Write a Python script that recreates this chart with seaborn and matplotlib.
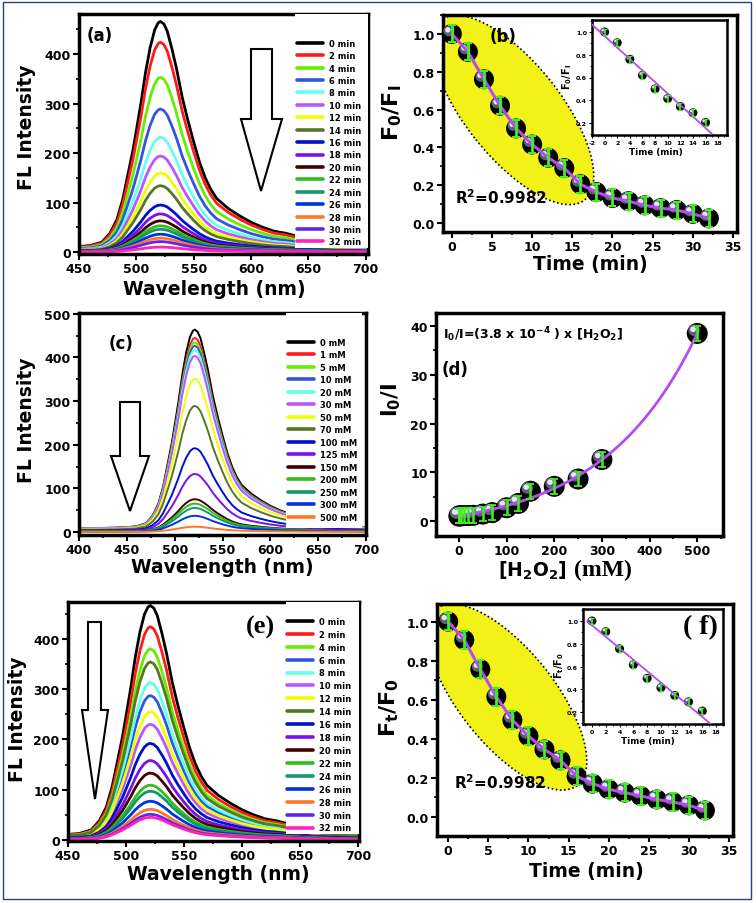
import numpy as np
import pandas as pd
import matplotlib
matplotlib.use("Agg")
import matplotlib.pyplot as plt
import seaborn as sns
from matplotlib.patches import Ellipse, Polygon, Rectangle
from matplotlib.lines import Line2D
from matplotlib import transforms
from matplotlib.ticker import MultipleLocator

# ---------------- data ----------------
wavelength = [400, 420, 440, 450, 460, 470, 477, 483, 488, 493, 497, 500, 504, 508, 512,
              516, 519, 521, 524, 527, 531, 535, 540, 545, 550, 555, 560, 565, 570, 580,
              590, 600, 610, 620, 630, 640, 650, 660, 680, 700]
profile0 = [8, 9, 10, 11, 13, 20, 38, 65, 105, 160, 205, 245, 300, 362, 412,
            448, 462, 465, 460, 445, 410, 370, 312, 265, 222, 182, 150, 126, 108, 88,
            73, 60, 50, 42, 38, 32, 25, 20, 14, 10]

time_min = [0, 2, 4, 6, 8, 10, 12, 14, 16, 18, 20, 22, 24, 26, 28, 30, 32]
time_labels = [f"{t} min" for t in time_min]
conc_mM = [0, 1, 5, 10, 20, 30, 50, 70, 100, 125, 150, 200, 250, 300, 500]
conc_labels = [f"{c} mM" for c in conc_mM]

peaks_a = [466, 424, 353, 289, 232, 194, 160, 134, 95, 77, 63, 53, 46, 36, 28, 21, 10]
peaks_c = [464, 445, 435, 427, 417, 404, 351, 289, 192, 133, 75, 65, 55, 37, 12]
peaks_e = [466, 424, 380, 287, 313, 230, 255, 354, 192, 158, 133, 109, 97, 77, 61, 51, 45]

ratio_b = [1.0, 0.905, 0.76, 0.62, 0.50, 0.415, 0.345, 0.29, 0.205, 0.163, 0.132,
           0.115, 0.093, 0.078, 0.068, 0.048, 0.024]
ratio_f = [1.0, 0.906, 0.756, 0.615, 0.496, 0.414, 0.346, 0.29, 0.209, 0.171, 0.142,
           0.125, 0.108, 0.09, 0.077, 0.06, 0.034]
inset_time = [0, 2, 4, 6, 8, 10, 12, 14, 16]
inset_b = [1.0, 0.905, 0.76, 0.62, 0.50, 0.415, 0.345, 0.29, 0.205]
inset_f = [1.0, 0.906, 0.756, 0.615, 0.496, 0.414, 0.346, 0.29, 0.209]
ratio_d = [1.0, 1.02, 1.05, 1.08, 1.1, 1.15, 1.4, 1.7, 2.7, 3.6, 6.1, 7.1, 8.6, 12.6, 38.5]

series_colors = ['#000000', '#ff1a1a', '#66ee00', '#3355dd', '#66ffee', '#bb55ff',
                 '#eeff00', '#557722', '#0011cc', '#7711ee', '#440000', '#33bb22',
                 '#119966', '#0033dd', '#ff7722', '#6622ee', '#ff22bb']

# ---------------- style ----------------
sns.set_theme(style="ticks")
plt.rcParams['font.family'] = ['DejaVu Sans']
plt.rcParams['font.weight'] = 'bold'
plt.rcParams['mathtext.default'] = 'bf'
plt.rcParams['axes.unicode_minus'] = False
plt.rcParams['axes.edgecolor'] = 'black'
plt.rcParams['text.color'] = 'black'
plt.rcParams['axes.labelcolor'] = 'black'
plt.rcParams['xtick.color'] = 'black'
plt.rcParams['ytick.color'] = 'black'
plt.rcParams['xtick.labelcolor'] = 'black'
plt.rcParams['ytick.labelcolor'] = 'black'

W, H = 756, 904
fig = plt.figure(figsize=(W / 100, H / 100), dpi=100)
fig.patch.set_facecolor('white')


def add_ax(x0, y0, x1, y1):
    return fig.add_axes([x0 / W, 1 - y1 / H, (x1 - x0) / W, (y1 - y0) / H])


def ftext(x, y, s, **kw):
    kw.setdefault('color', 'black')
    fig.text(x / W, 1 - y / H, s, **kw)


def style(ax, lw=2.5, fs=9, maj=4.5, mnr=2.5, tw=1.5, pad=1.5):
    for sp in ax.spines.values():
        sp.set_linewidth(lw)
        sp.set_color('black')
        sp.set_visible(True)
    ax.tick_params(which='major', direction='out', length=maj, width=tw, labelsize=fs,
                   pad=pad, top=False, right=False, colors='black', labelcolor='black')
    ax.tick_params(which='minor', direction='out', length=mnr, width=tw * 0.8,
                   top=False, right=False, colors='black')
    ax.set_facecolor('white')
    ax.set_xlabel('')
    ax.set_ylabel('')


def spectra(ax, peaks, labels, lw):
    pk0 = max(profile0)
    rows = []
    for lab, pk in zip(labels, peaks):
        for w, p in zip(wavelength, profile0):
            rows.append((w, p * pk / pk0, lab))
    df = pd.DataFrame(rows, columns=['wl', 'I', 'series'])
    sns.lineplot(data=df, x='wl', y='I', hue='series', hue_order=labels,
                 palette=series_colors[:len(labels)], linewidth=lw, legend=False,
                 estimator=None, sort=False, ax=ax)


def spec_legend(ax, labels, anchor, ls):
    handles = [Line2D([], [], color=c, lw=2.6) for c in series_colors[:len(labels)]]
    leg = ax.legend(handles, labels, loc='upper left', bbox_to_anchor=anchor,
                    frameon=False, fontsize=6, handlelength=3.1, handletextpad=0.7,
                    labelspacing=ls, borderpad=0, borderaxespad=0)
    leg.set_zorder(6)
    for t in leg.get_texts():
        t.set_fontweight('bold')
        t.set_color('black')


def white_box(ax, x0, y0):
    ax.add_patch(Rectangle((x0, y0), 80, 600, facecolor='white', edgecolor='none', zorder=3))


def down_arrow(sx0, sx1, hx0, hx1, ytop, yshaft, tipx, tipy):
    pts = [(sx0, ytop), (sx1, ytop), (sx1, yshaft), (hx1, yshaft), (tipx, tipy),
           (hx0, yshaft), (sx0, yshaft)]
    pts = [(x / W, 1 - y / H) for x, y in pts]
    fig.add_artist(Polygon(pts, closed=True, facecolor='white', edgecolor='black',
                           lw=1.5, transform=fig.transFigure, zorder=10))


def balls(ax, x, y, d, z=3):
    s = (d * 0.72) ** 2
    sns.scatterplot(x=x, y=y, s=s, color='black', edgecolor='none', ax=ax, zorder=z,
                    legend=False)
    o1 = d * 0.15
    tr1 = transforms.offset_copy(ax.transData, fig=fig, x=-o1, y=o1, units='dots')
    ax.scatter(x, y, s=(d * 0.55 * 0.72) ** 2, color='#5a6078', edgecolors='none',
               transform=tr1, zorder=z + 0.1)
    o2 = d * 0.2
    tr2 = transforms.offset_copy(ax.transData, fig=fig, x=-o2, y=o2, units='dots')
    ax.scatter(x, y, s=(d * 0.27 * 0.72) ** 2, color='#e2e6f8', edgecolors='none',
               transform=tr2, zorder=z + 0.2)


GREEN = '#44ee22'
PURPLE = '#b44cf0'

# ---------------- (a) ----------------
axa = add_ax(79, 15, 368, 255)
spectra(axa, peaks_a, time_labels, 2.0)
white_box(axa, 638, 8)
axa.set_xlim(450, 702)
axa.set_ylim(-4, 481)
axa.xaxis.set_major_locator(MultipleLocator(50))
axa.xaxis.set_minor_locator(MultipleLocator(25))
axa.yaxis.set_major_locator(MultipleLocator(100))
axa.yaxis.set_minor_locator(MultipleLocator(50))
style(axa)
spec_legend(axa, time_labels, (0.754, 0.897), 0.41)
down_arrow(251, 272, 241, 282, 50, 120, 261, 192)
ftext(100, 36, '(a)', fontsize=12, ha='center', va='center', fontweight='bold')
ftext(214, 280, 'Wavelength (nm)', fontsize=13.5, ha='center', va='top', fontweight='bold')
ftext(27, 127, 'FL Intensity', fontsize=13.5, ha='center', va='center', rotation=90,
      fontweight='bold')

# ---------------- (b) ----------------
axb = add_ax(443, 16, 737, 233)
axb.add_patch(Ellipse((5.13, 7.93), 2.30, 0.95, angle=-51.4, facecolor='#f2f218',
                      edgecolor='black', lw=1.2, linestyle=(0, (1, 1.5)),
                      transform=fig.dpi_scale_trans, zorder=1))
balls(axb, time_min, ratio_b, 20)
sns.lineplot(x=time_min, y=ratio_b, color=PURPLE, linewidth=2.2, ax=axb, zorder=5,
             sort=False)
axb.errorbar(time_min, ratio_b, yerr=0.045, fmt='none', ecolor=GREEN, elinewidth=2,
             capsize=3, capthick=1.5, zorder=6)
axb.set_xlim(-1.1, 35.5)
axb.set_ylim(-0.048, 1.10)
axb.xaxis.set_major_locator(MultipleLocator(5))
axb.xaxis.set_minor_locator(MultipleLocator(2.5))
axb.yaxis.set_major_locator(MultipleLocator(0.2))
axb.yaxis.set_minor_locator(MultipleLocator(0.1))
style(axb)
ftext(503, 37, '(b)', fontsize=12, ha='center', va='center', fontweight='bold')
ftext(501, 198, 'R$^2$=0.9982', fontsize=11, ha='center', va='center', fontweight='bold')
ftext(590, 255, 'Time (min)', fontsize=13.5, ha='center', va='top', fontweight='bold')
ftext(392, 113, r'F$_0$/F$_I$', fontsize=16, ha='center', va='center', rotation=90)

# inset (b)
axbi = add_ax(592, 21, 727, 136)
fit_b = np.polyfit(inset_time, inset_b, 1)
xb_line = np.array([-2, 17])
sns.lineplot(x=xb_line, y=np.polyval(fit_b, xb_line), color=PURPLE, linewidth=1.3,
             ax=axbi, zorder=5)
balls(axbi, inset_time, inset_b, 9)
axbi.errorbar(inset_time, inset_b, yerr=0.03, fmt='none', ecolor=GREEN, elinewidth=1.2,
              capsize=1.5, capthick=1, zorder=6)
axbi.set_xlim(-2, 19.4)
axbi.set_ylim(0.095, 1.105)
axbi.xaxis.set_major_locator(MultipleLocator(2))
axbi.xaxis.set_minor_locator(MultipleLocator(1))
axbi.yaxis.set_major_locator(MultipleLocator(0.2))
axbi.yaxis.set_minor_locator(MultipleLocator(0.1))
style(axbi, lw=1.8, fs=4.5, maj=2.5, mnr=1.5, tw=0.8, pad=1)
ftext(656, 148, 'Time (min)', fontsize=6.3, ha='center', va='top', fontweight='bold')
ftext(567, 77, r'F$_0$/F$_I$', fontsize=7, ha='center', va='center', rotation=90)

# ---------------- (c) ----------------
axc = add_ax(79, 314, 366, 536)
spectra(axc, peaks_c, conc_labels, 1.4)
white_box(axc, 616, 8)
axc.set_xlim(400, 700)
axc.set_ylim(-7, 502)
axc.xaxis.set_major_locator(MultipleLocator(50))
axc.xaxis.set_minor_locator(MultipleLocator(25))
axc.yaxis.set_major_locator(MultipleLocator(100))
axc.yaxis.set_minor_locator(MultipleLocator(50))
style(axc)
spec_legend(axc, conc_labels, (0.728, 0.888), 0.42)
down_arrow(120, 140, 111, 149, 403, 457, 130, 512)
ftext(121, 344, '(c)', fontsize=12, ha='center', va='center', fontweight='bold')
ftext(222, 558, 'Wavelength (nm)', fontsize=13.5, ha='center', va='top', fontweight='bold')
ftext(27, 420, 'FL Intensity', fontsize=13.5, ha='center', va='center', rotation=90,
      fontweight='bold')

# ---------------- (d) ----------------
axd = add_ax(436, 314, 723, 537)
c_arr = np.array(conc_mM, float)
r_arr = np.array(ratio_d, float)
best = None
for k in np.linspace(0.001, 0.012, 1101):
    bas = np.exp(k * c_arr) - 1
    A = np.dot(bas, r_arr - 1) / np.dot(bas, bas)
    sse = np.sum((1 + A * bas - r_arr) ** 2)
    if best is None or sse < best[0]:
        best = (sse, k, A)
_, kbest, Abest = best
xfit = np.linspace(0, 500, 300)
balls(axd, conc_mM, ratio_d, 21)
sns.lineplot(x=xfit, y=1 + Abest * (np.exp(kbest * xfit) - 1), color=PURPLE,
             linewidth=2.0, ax=axd, zorder=5)
axd.errorbar(conc_mM, ratio_d, yerr=1.5, fmt='none', ecolor=GREEN, elinewidth=1.8,
             capsize=3, capthick=1.3, zorder=6)
axd.set_xlim(-48, 554)
axd.set_ylim(-3.1, 42.7)
axd.xaxis.set_major_locator(MultipleLocator(100))
axd.xaxis.set_minor_locator(MultipleLocator(50))
axd.yaxis.set_major_locator(MultipleLocator(10))
axd.yaxis.set_minor_locator(MultipleLocator(5))
style(axd)
ftext(443, 335, r'I$_0$/I=(3.8 x 10$^{-4}$ ) x [H$_2$O$_2$]', fontsize=9, ha='left',
      va='center', fontweight='bold')
ftext(455, 370, '(d)', fontsize=12, ha='center', va='center', fontweight='bold')
ftext(567, 571, '[H$_2$O$_2$]', fontsize=13.5, ha='right', va='center', fontweight='bold')
ftext(574, 570, '(mM)', fontsize=17, ha='left', va='center', fontweight='bold',
      family='Liberation Serif')
ftext(391, 400, r'I$_0$/I', fontsize=15, ha='center', va='center', rotation=90)

# ---------------- (e) ----------------
axe = add_ax(68, 603, 359, 842)
spectra(axe, peaks_e, time_labels, 2.0)
white_box(axe, 638, 12)
axe.set_xlim(450, 701)
axe.set_ylim(-2, 473)
axe.xaxis.set_major_locator(MultipleLocator(50))
axe.xaxis.set_minor_locator(MultipleLocator(25))
axe.yaxis.set_major_locator(MultipleLocator(100))
axe.yaxis.set_minor_locator(MultipleLocator(50))
style(axe)
spec_legend(axe, time_labels, (0.753, 0.938), 0.47)
down_arrow(88, 101, 82, 108, 623, 711, 95, 800)
ftext(260, 627, '(e)', fontsize=19, ha='center', va='center', fontweight='bold',
      family='Liberation Serif')
ftext(218, 865, 'Wavelength (nm)', fontsize=13.5, ha='center', va='top', fontweight='bold')
ftext(17.5, 719, 'FL Intensity', fontsize=13.5, ha='center', va='center', rotation=90,
      fontweight='bold')

# ---------------- (f) ----------------
axf = add_ax(437, 605, 733, 837)
axf.add_patch(Ellipse((5.07, 2.06), 2.26, 0.95, angle=-51.3, facecolor='#f2f218',
                      edgecolor='black', lw=1.2, linestyle=(0, (1, 1.5)),
                      transform=fig.dpi_scale_trans, zorder=1))
balls(axf, time_min, ratio_f, 20)
sns.lineplot(x=time_min, y=ratio_f, color=PURPLE, linewidth=2.2, ax=axf, zorder=5,
             sort=False)
axf.errorbar(time_min, ratio_f, yerr=0.045, fmt='none', ecolor=GREEN, elinewidth=2,
             capsize=3, capthick=1.5, zorder=6)
axf.set_xlim(-1.4, 35.5)
axf.set_ylim(-0.097, 1.09)
axf.xaxis.set_major_locator(MultipleLocator(5))
axf.xaxis.set_minor_locator(MultipleLocator(2.5))
axf.yaxis.set_major_locator(MultipleLocator(0.2))
axf.yaxis.set_minor_locator(MultipleLocator(0.1))
style(axf)
ftext(500, 783, 'R$^2$=0.9982', fontsize=11, ha='center', va='center', fontweight='bold')
ftext(586, 862, 'Time (min)', fontsize=13.5, ha='center', va='top', fontweight='bold')
ftext(389, 708, r'F$_t$/F$_0$', fontsize=16, ha='center', va='center', rotation=90)

# inset (f)
axfi = add_ax(583, 610, 723, 725)
fit_f = np.polyfit(inset_time, inset_f, 1)
xf_line = np.array([-0.7, 17.2])
sns.lineplot(x=xf_line, y=np.polyval(fit_f, xf_line), color=PURPLE, linewidth=1.3,
             ax=axfi, zorder=5)
balls(axfi, inset_time, inset_f, 9)
axfi.errorbar(inset_time, inset_f, yerr=0.03, fmt='none', ecolor=GREEN, elinewidth=1.2,
              capsize=1.5, capthick=1, zorder=6)
axfi.set_xlim(-1.3, 19)
axfi.set_ylim(0.095, 1.105)
axfi.xaxis.set_major_locator(MultipleLocator(2))
axfi.xaxis.set_minor_locator(MultipleLocator(1))
axfi.yaxis.set_major_locator(MultipleLocator(0.2))
axfi.yaxis.set_minor_locator(MultipleLocator(0.1))
style(axfi, lw=1.8, fs=4.5, maj=2.5, mnr=1.5, tw=0.8, pad=1)
ftext(648, 737, 'Time (min)', fontsize=6.3, ha='center', va='top', fontweight='bold')
ftext(559, 665, r'F$_t$/F$_0$', fontsize=7, ha='center', va='center', rotation=90)
ftext(700, 628, '( f)', fontsize=20, ha='center', va='center', fontweight='bold',
      family='Liberation Serif')

# figure border
fig.add_artist(Rectangle((3 / W, 1 - 900 / H), 748 / W, 897 / H, transform=fig.transFigure,
                         fill=False, edgecolor='#2b3d8c', lw=1.0))

fig.savefig('out.png', dpi=100, facecolor='white')
